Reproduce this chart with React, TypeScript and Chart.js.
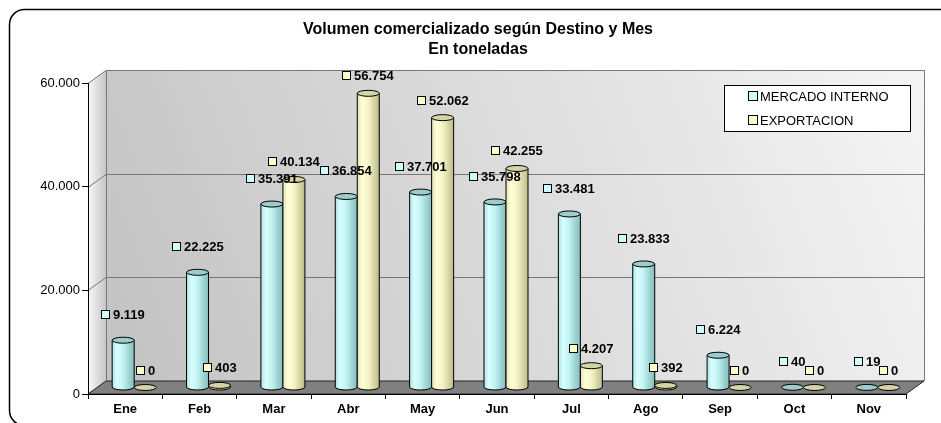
import React, { useEffect, useRef } from 'react';
import { Chart, registerables } from 'chart.js';

Chart.register(...registerables);

const months = ['Ene', 'Feb', 'Mar', 'Abr', 'May', 'Jun', 'Jul', 'Ago', 'Sep', 'Oct', 'Nov'];
const mercadoInterno = [9119, 22225, 35391, 36854, 37701, 35798, 33481, 23833, 6224, 40, 19];
const exportacion = [0, 403, 40134, 56754, 52062, 42255, 4207, 392, 0, 0, 0];
const yTicks = [0, 20000, 40000, 60000];
const seriesNames = ['MERCADO INTERNO', 'EXPORTACION'];
const titleLines = ['Volumen comercializado según Destino y Mes', 'En toneladas'];

const FONT = "'Liberation Sans', Arial, sans-serif";
const DX = 18;
const DY = -13;

const seriesStyle = [
  {
    stops: [[0, '#aee4e4'], [0.22, '#d8ffff'], [0.5, '#c2f2f2'], [0.75, '#a2d6d6'], [1, '#86bcbc']],
    top: '#9ccdcd',
    key: '#ccffff',
    labelGap: 26,
  },
  {
    stops: [[0, '#e2e2b2'], [0.22, '#ffffd8'], [0.5, '#f4f4c6'], [0.75, '#d8d8a8'], [1, '#baba8c']],
    top: '#d4d4a4',
    key: '#ffffcc',
    labelGap: 18,
  },
];

function fmt(v: number): string {
  return Math.round(v).toString().replace(/\B(?=(\d{3})+(?!\d))/g, '.');
}

function drawCylinder(ctx: CanvasRenderingContext2D, cx: number, top: number, base: number, w: number, st: any) {
  const rx = w / 2;
  const ry = 3;
  const left = cx - rx;
  const right = cx + rx;
  ctx.lineWidth = 1;
  ctx.strokeStyle = '#000';
  if (base - top > 0.5) {
    const g = ctx.createLinearGradient(left, 0, right, 0);
    st.stops.forEach((s: any) => g.addColorStop(s[0], s[1]));
    ctx.beginPath();
    ctx.moveTo(left, top);
    ctx.lineTo(left, base);
    ctx.ellipse(cx, base, rx, ry, 0, Math.PI, 0, true);
    ctx.lineTo(right, top);
    ctx.closePath();
    ctx.fillStyle = g;
    ctx.fill();
    ctx.stroke();
  }
  ctx.beginPath();
  ctx.ellipse(cx, top, rx, ry, 0, 0, Math.PI * 2);
  ctx.fillStyle = st.top;
  ctx.fill();
  ctx.stroke();
}

const plugin3d = {
  id: 'threeD',
  beforeDraw(chart: any) {
    const ctx: CanvasRenderingContext2D = chart.ctx;
    const { left, top, right, bottom } = chart.chartArea;
    const ys = chart.scales.y;
    ctx.save();
    ctx.fillStyle = '#fff';
    ctx.fillRect(0, 0, chart.width, chart.height);
    // outer rounded border
    ctx.beginPath();
    (ctx as any).roundRect(9.5, 9.5, 960, 416, 15);
    ctx.lineWidth = 1.5;
    ctx.strokeStyle = '#000';
    ctx.stroke();

    const bl = left + DX, bt = top + DY, br = right + DX, bb = bottom + DY;
    // back wall
    let g = ctx.createLinearGradient(bl, bb, br, bt);
    g.addColorStop(0, '#c2c2c2');
    g.addColorStop(1, '#f5f5f5');
    ctx.fillStyle = g;
    ctx.fillRect(bl, bt, br - bl, bb - bt);
    // side wall
    g = ctx.createLinearGradient(left, 0, bl, 0);
    g.addColorStop(0, '#f8f8f8');
    g.addColorStop(1, '#c6c6c6');
    ctx.beginPath();
    ctx.moveTo(left, top);
    ctx.lineTo(bl, bt);
    ctx.lineTo(bl, bb);
    ctx.lineTo(left, bottom);
    ctx.closePath();
    ctx.fillStyle = g;
    ctx.fill();
    // grid lines
    ctx.strokeStyle = '#777';
    ctx.lineWidth = 1;
    ctx.beginPath();
    yTicks.forEach((v) => {
      const py = Math.round(ys.getPixelForValue(v)) + 0.5;
      ctx.moveTo(left, py);
      ctx.lineTo(bl, py + DY);
      ctx.lineTo(br, py + DY);
    });
    ctx.moveTo(Math.round(bl) + 0.5, bt);
    ctx.lineTo(Math.round(bl) + 0.5, bb);
    ctx.moveTo(Math.round(br) + 0.5, bt);
    ctx.lineTo(Math.round(br) + 0.5, bb);
    ctx.stroke();
    // floor
    ctx.beginPath();
    ctx.moveTo(left, bottom);
    ctx.lineTo(bl, bb);
    ctx.lineTo(br, bb);
    ctx.lineTo(right, bottom);
    ctx.closePath();
    ctx.fillStyle = '#808080';
    ctx.fill();
    ctx.strokeStyle = '#222';
    ctx.stroke();
    ctx.restore();
  },
  afterDatasetsDraw(chart: any) {
    const ctx: CanvasRenderingContext2D = chart.ctx;
    ctx.save();
    const metas = [chart.getDatasetMeta(0), chart.getDatasetMeta(1)];
    for (let i = 0; i < months.length; i++) {
      metas.forEach((meta: any, d: number) => {
        const el = meta.data[i];
        drawCylinder(ctx, el.x + DX / 2, el.y + DY / 2, el.base + DY / 2, el.width, seriesStyle[d]);
      });
    }
    ctx.font = `bold 13px ${FONT}`;
    ctx.textBaseline = 'middle';
    ctx.textAlign = 'left';
    const values = [mercadoInterno, exportacion];
    metas.forEach((meta: any, d: number) => {
      meta.data.forEach((el: any, i: number) => {
        const txt = fmt(values[d][i]);
        const tw = ctx.measureText(txt).width;
        const total = 8 + 4 + tw;
        const cx = el.x + DX / 2;
        const ly = el.y + DY / 2 - seriesStyle[d].labelGap;
        const x0 = Math.round(cx - total / 2);
        ctx.fillStyle = seriesStyle[d].key;
        ctx.fillRect(x0 + 0.5, Math.round(ly) - 3.5, 8, 8);
        ctx.strokeStyle = '#000';
        ctx.lineWidth = 1;
        ctx.strokeRect(x0 + 0.5, Math.round(ly) - 3.5, 8, 8);
        ctx.fillStyle = '#000';
        ctx.fillText(txt, x0 + 12, Math.round(ly) + 1);
      });
    });
    ctx.restore();
  },
  afterDraw(chart: any) {
    const ctx: CanvasRenderingContext2D = chart.ctx;
    ctx.save();
    const lx = 724.5, ly = 85.5, lw = 186, lh = 46;
    ctx.fillStyle = '#fff';
    ctx.fillRect(lx, ly, lw, lh);
    ctx.strokeStyle = '#000';
    ctx.lineWidth = 1;
    ctx.strokeRect(lx, ly, lw, lh);
    ctx.font = `13px ${FONT}`;
    ctx.textBaseline = 'middle';
    ctx.textAlign = 'left';
    seriesNames.forEach((name, d) => {
      const cy = 96 + d * 24;
      ctx.fillStyle = seriesStyle[d].key;
      ctx.fillRect(748.5, cy - 4.5, 9, 9);
      ctx.strokeRect(748.5, cy - 4.5, 9, 9);
      ctx.fillStyle = '#000';
      ctx.fillText(name, 760, cy + 1);
    });
    ctx.restore();
  },
};

export default function App() {
  const ref = useRef<HTMLCanvasElement>(null);
  useEffect(() => {
    const canvas = ref.current;
    if (!canvas) return;
    const chart = new Chart(canvas, {
      type: 'bar',
      data: {
        labels: months,
        datasets: [
          { label: seriesNames[0], data: mercadoInterno, backgroundColor: 'rgba(0,0,0,0)', borderWidth: 0 },
          { label: seriesNames[1], data: exportacion, backgroundColor: 'rgba(0,0,0,0)', borderWidth: 0 },
        ],
      },
      options: {
        responsive: false,
        animation: false,
        events: [],
        devicePixelRatio: 1,
        layout: { padding: { left: 15, right: 0, top: 0, bottom: 0 } },
        datasets: { bar: { categoryPercentage: 0.5917, barPercentage: 1 } },
        plugins: {
          legend: { display: false },
          tooltip: { enabled: false },
          title: {
            display: true,
            text: titleLines,
            color: '#000',
            font: { family: FONT, size: 16, weight: 'bold', lineHeight: '20px' },
            padding: { top: 20, bottom: 23 },
          },
        },
        scales: {
          x: {
            grid: { drawOnChartArea: false, tickLength: 5, color: '#000', offset: true },
            border: { color: '#000' },
            ticks: { font: { family: FONT, size: 13, weight: 'bold' }, color: '#000', padding: 3 },
            afterFit: (s: any) => { s.height = 29; },
          },
          y: {
            min: 0,
            max: 60000,
            ticks: {
              stepSize: 20000,
              callback: (v: any) => fmt(Number(v)),
              font: { family: FONT, size: 13 },
              color: '#000',
              padding: 2,
            },
            grid: { drawOnChartArea: false, tickLength: 6, color: '#000' },
            border: { color: '#000' },
            afterFit: (s: any) => { s.width = 73; },
          },
          yRight: {
            type: 'linear',
            position: 'right',
            display: true,
            min: 0,
            max: 60000,
            grid: { display: false, drawTicks: false },
            border: { display: false },
            ticks: { display: false },
            afterFit: (s: any) => { s.width = 35; },
          },
        },
      } as any,
      plugins: [plugin3d],
    });
    return () => chart.destroy();
  }, []);
  return (
    <div style={{ position: 'fixed', left: 0, top: 0, width: 941, height: 423, overflow: 'hidden' }}>
      <canvas ref={ref} width={941} height={423} />
    </div>
  );
}
